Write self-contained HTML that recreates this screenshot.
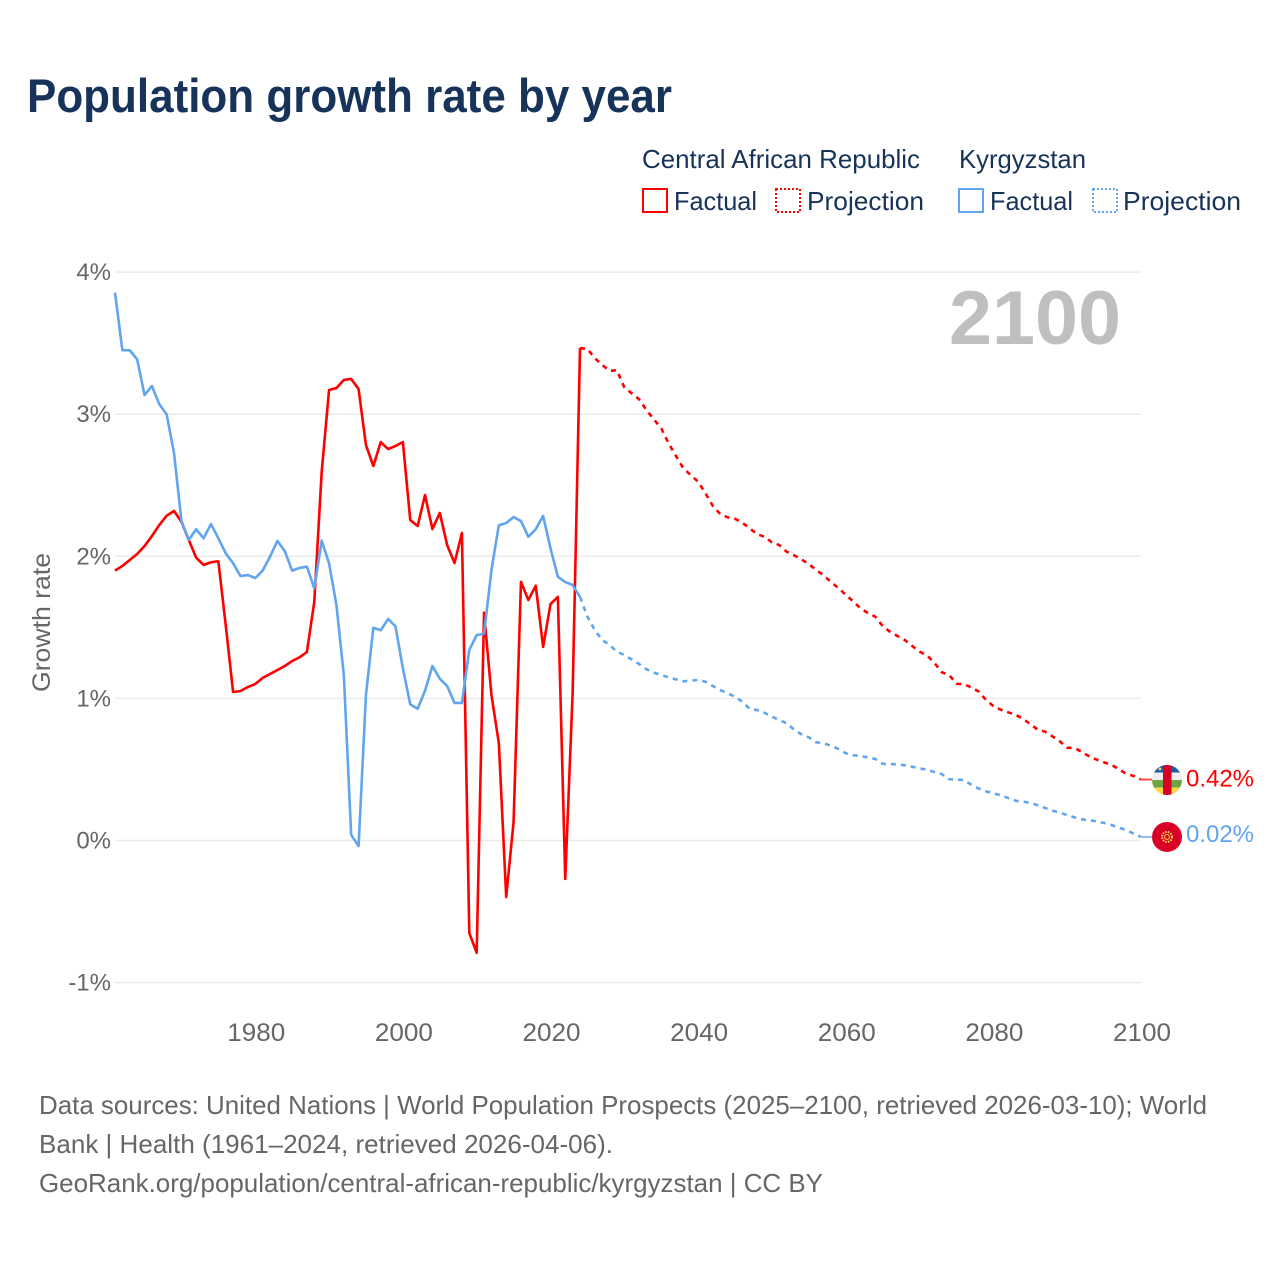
<!DOCTYPE html>
<html lang="en">
<head>
<meta charset="utf-8">
<title>Population growth rate by year</title>
<style>
html,body{margin:0;padding:0;background:#fff;width:1280px;height:1280px;overflow:hidden}
svg{display:block}
text{font-family:"Liberation Sans",sans-serif}
.legend{font-size:26px;fill:#17335a}
.foot{font-size:26px;fill:#666}
.tick{font-size:25px;fill:#666}
.ytick{font-size:24px;fill:#666}
</style>
</head>
<body>
<svg id="chart" xmlns="http://www.w3.org/2000/svg" width="1280" height="1280" viewBox="0 0 1280 1280">
  <rect x="0" y="0" width="1280" height="1280" fill="#fff"/>
  <text x="27" y="112" font-size="47" font-weight="700" fill="#17335a" textLength="645" lengthAdjust="spacingAndGlyphs">Population growth rate by year</text>

  <g>
    <text class="legend" x="642" y="168" textLength="278" lengthAdjust="spacingAndGlyphs">Central African Republic</text>
    <text class="legend" x="959" y="168" textLength="127" lengthAdjust="spacingAndGlyphs">Kyrgyzstan</text>
    <rect x="643" y="189" width="24" height="23" fill="none" stroke="#ff0000" stroke-width="2"/>
    <text class="legend" x="674" y="210" textLength="83" lengthAdjust="spacingAndGlyphs">Factual</text>
    <rect x="776" y="189" width="24" height="23" fill="none" stroke="#ff0000" stroke-width="2" stroke-dasharray="2 2"/>
    <text class="legend" x="807" y="210" textLength="117" lengthAdjust="spacingAndGlyphs">Projection</text>
    <rect x="959" y="189" width="24" height="23" fill="none" stroke="#60a5ee" stroke-width="2"/>
    <text class="legend" x="990" y="210" textLength="83" lengthAdjust="spacingAndGlyphs">Factual</text>
    <rect x="1093" y="189" width="24" height="23" fill="none" stroke="#60a5ee" stroke-width="2" stroke-dasharray="2 2"/>
    <text class="legend" x="1123" y="210" textLength="118" lengthAdjust="spacingAndGlyphs">Projection</text>
  </g>

  <text class="tick" transform="translate(50,692) rotate(-90)" x="0" y="0" textLength="139" lengthAdjust="spacingAndGlyphs">Growth rate</text>
  <text x="949" y="344" font-size="76" font-weight="700" fill="#bfbfbf" textLength="172" lengthAdjust="spacingAndGlyphs">2100</text>

  <g id="grid"></g>
  <g id="yticks"></g>
  <g id="xticks"></g>
  <g id="series"></g>
  <g id="ends"></g>

  <g>
    <text class="foot" x="39" y="1114" textLength="1168" lengthAdjust="spacingAndGlyphs">Data sources: United Nations | World Population Prospects (2025–2100, retrieved 2026-03-10); World</text>
    <text class="foot" x="39" y="1153" textLength="574" lengthAdjust="spacingAndGlyphs">Bank | Health (1961–2024, retrieved 2026-04-06).</text>
    <text class="foot" x="39" y="1192" textLength="784" lengthAdjust="spacingAndGlyphs">GeoRank.org/population/central-african-republic/kyrgyzstan | CC BY</text>
  </g>
</svg>
<script>
const xTickYears = [1980, 2000, 2020, 2040, 2060, 2080, 2100];
const yTickValues = [4, 3, 2, 1, 0, -1];
const factualStartYear = 1961;
const projectionStartYear = 2024;

const carFactual = [1.899,1.932,1.974,2.016,2.072,2.143,2.220,2.286,2.319,2.243,2.115,1.990,1.939,1.958,1.965,1.516,1.045,1.052,1.080,1.101,1.144,1.172,1.200,1.228,1.263,1.289,1.326,1.680,2.593,3.170,3.184,3.241,3.248,3.177,2.783,2.635,2.804,2.755,2.776,2.804,2.255,2.213,2.431,2.192,2.305,2.079,1.953,2.164,-0.651,-0.790,1.603,1.024,0.686,-0.398,0.132,1.821,1.692,1.793,1.362,1.664,1.714,-0.271,1.038,3.466];

const carProjection = [3.466,3.459,3.395,3.346,3.306,3.309,3.189,3.147,3.105,3.029,2.964,2.901,2.795,2.706,2.619,2.572,2.525,2.443,2.354,2.298,2.274,2.264,2.236,2.197,2.155,2.138,2.098,2.079,2.032,2.007,1.979,1.944,1.904,1.866,1.819,1.777,1.730,1.683,1.634,1.601,1.575,1.509,1.469,1.439,1.411,1.369,1.329,1.303,1.251,1.184,1.165,1.103,1.099,1.078,1.049,0.989,0.946,0.920,0.902,0.885,0.857,0.820,0.780,0.766,0.733,0.698,0.653,0.651,0.623,0.592,0.569,0.550,0.533,0.501,0.470,0.454,0.429];

const kgzFactual = [3.855,3.450,3.450,3.386,3.135,3.198,3.070,2.999,2.725,2.250,2.115,2.190,2.127,2.227,2.127,2.021,1.951,1.861,1.868,1.847,1.899,1.997,2.108,2.037,1.899,1.918,1.927,1.775,2.110,1.951,1.657,1.165,0.039,-0.039,1.024,1.497,1.479,1.559,1.507,1.212,0.958,0.927,1.054,1.228,1.139,1.087,0.968,0.968,1.341,1.446,1.455,1.904,2.218,2.234,2.276,2.248,2.138,2.190,2.284,2.056,1.856,1.819,1.798,1.714];

const kgzProjection = [1.714,1.575,1.481,1.411,1.376,1.329,1.305,1.275,1.242,1.205,1.181,1.165,1.148,1.134,1.120,1.125,1.129,1.117,1.087,1.059,1.036,1.012,0.977,0.925,0.918,0.899,0.871,0.848,0.825,0.780,0.747,0.726,0.691,0.684,0.667,0.644,0.614,0.600,0.595,0.585,0.574,0.540,0.538,0.536,0.529,0.519,0.508,0.498,0.482,0.468,0.431,0.428,0.426,0.393,0.366,0.346,0.332,0.318,0.299,0.280,0.273,0.266,0.248,0.229,0.210,0.196,0.179,0.163,0.149,0.142,0.135,0.123,0.109,0.090,0.074,0.048,0.025];

const endLabels = ['0.42%', '0.02%'];

const NS = 'http://www.w3.org/2000/svg';
const plotLeft = 115, plotRight = 1141;
const xScale = function (year) { return plotLeft + (year - factualStartYear) * (plotRight - plotLeft) / 139; };
const yScale = function (value) { return 840.5 - value * 142.1; };
const RED = '#ff0000', BLUE = '#60a5ee';

function make(tag, attrs, parent) {
  const el = document.createElementNS(NS, tag);
  Object.keys(attrs).forEach(function (k) { el.setAttribute(k, attrs[k]); });
  parent.appendChild(el);
  return el;
}

const gridG = document.getElementById('grid');
const yG = document.getElementById('yticks');
yTickValues.forEach(function (v) {
  const line = make('line', { x1: plotLeft, x2: plotRight, y1: yScale(v), y2: yScale(v), stroke: '#ebebeb', 'stroke-width': 1.5 }, gridG);
  
  
  const t = make('text', { x: 111, y: yScale(v) + 8, 'text-anchor': 'end', class: 'ytick' }, yG);
  
  
  t.textContent = v + '%';
});

const xG = document.getElementById('xticks');
xTickYears.forEach(function (yr) {
  const t = make('text', { x: xScale(yr) + 1, y: 1041, 'text-anchor': 'middle', class: 'tick', textLength: 58, lengthAdjust: 'spacingAndGlyphs' }, xG);
  
  
  t.textContent = yr;
});

function drawLine(values, startYear, color, dashed, name) {
  const pts = values.map(function (v, i) {
    return xScale(startYear + i).toFixed(2) + ',' + yScale(v).toFixed(2);
  }).join(' ');
  const attrs = { points: pts, fill: 'none', stroke: color, 'stroke-width': 2.6, 'stroke-linejoin': 'round' };
  if (dashed) { attrs['stroke-dasharray'] = '5 5'; }
  const el = make('polyline', attrs, document.getElementById('series'));
  
  
}

drawLine(carProjection, projectionStartYear, RED, true, 'car-projection-line');
drawLine(carFactual, factualStartYear, RED, false, 'car-factual-line');
drawLine(kgzProjection, projectionStartYear, BLUE, true, 'kyrgyzstan-projection-line');
drawLine(kgzFactual, factualStartYear, BLUE, false, 'kyrgyzstan-factual-line');

const endG = document.getElementById('ends');
const defs = make('defs', {}, endG);
const endX = xScale(projectionStartYear + carProjection.length - 1);
const carY = yScale(carProjection[carProjection.length - 1]);
const kgzY = yScale(kgzProjection[kgzProjection.length - 1]);
const flagX = endX + 26;

const clipA = make('clipPath', { id: 'clip-car' }, defs);
make('circle', { cx: flagX, cy: carY + 0.5, r: 15 }, clipA);

const conA = make('line', { x1: endX - 1, x2: flagX - 14, y1: carY, y2: carY, stroke: '#ff4d4d', 'stroke-width': 2 }, endG);


const conB = make('line', { x1: endX - 1, x2: flagX - 14, y1: kgzY, y2: kgzY, stroke: '#8cbff3', 'stroke-width': 2 }, endG);



const flagA = make('g', { 'clip-path': 'url(#clip-car)' }, endG);


const flagTop = carY + 0.5 - 15;
make('rect', { x: flagX - 15, y: flagTop, width: 30, height: 7.5, fill: '#1f5ca8' }, flagA);
make('rect', { x: flagX - 15, y: flagTop + 7.5, width: 30, height: 7.5, fill: '#eeeeee' }, flagA);
make('rect', { x: flagX - 15, y: flagTop + 15, width: 30, height: 7.5, fill: '#6da544' }, flagA);
make('rect', { x: flagX - 15, y: flagTop + 22.5, width: 30, height: 7.5, fill: '#ffda44' }, flagA);
make('rect', { x: flagX - 4, y: flagTop, width: 8.5, height: 30, fill: '#d80027' }, flagA);
make('circle', { cx: flagX - 7, cy: flagTop + 4, r: 1.4, fill: '#ffda44' }, flagA);

const flagB = make('g', {}, endG);


make('circle', { cx: flagX, cy: kgzY, r: 15, fill: '#d80027' }, flagB);
make('circle', { cx: flagX, cy: kgzY, r: 5, fill: 'none', stroke: '#ffda44', 'stroke-width': 2, 'stroke-dasharray': '1.5 1.2' }, flagB);
make('circle', { cx: flagX, cy: kgzY, r: 2.4, fill: 'none', stroke: '#ffda44', 'stroke-width': 1 }, flagB);

const labA = make('text', { x: flagX + 19, y: carY + 7, 'font-size': 24, fill: RED, textLength: 68, lengthAdjust: 'spacingAndGlyphs' }, endG);


labA.textContent = endLabels[0];
const labB = make('text', { x: flagX + 19, y: kgzY + 5, 'font-size': 24, fill: BLUE, textLength: 68, lengthAdjust: 'spacingAndGlyphs' }, endG);


labB.textContent = endLabels[1];
</script>
</body>
</html>
